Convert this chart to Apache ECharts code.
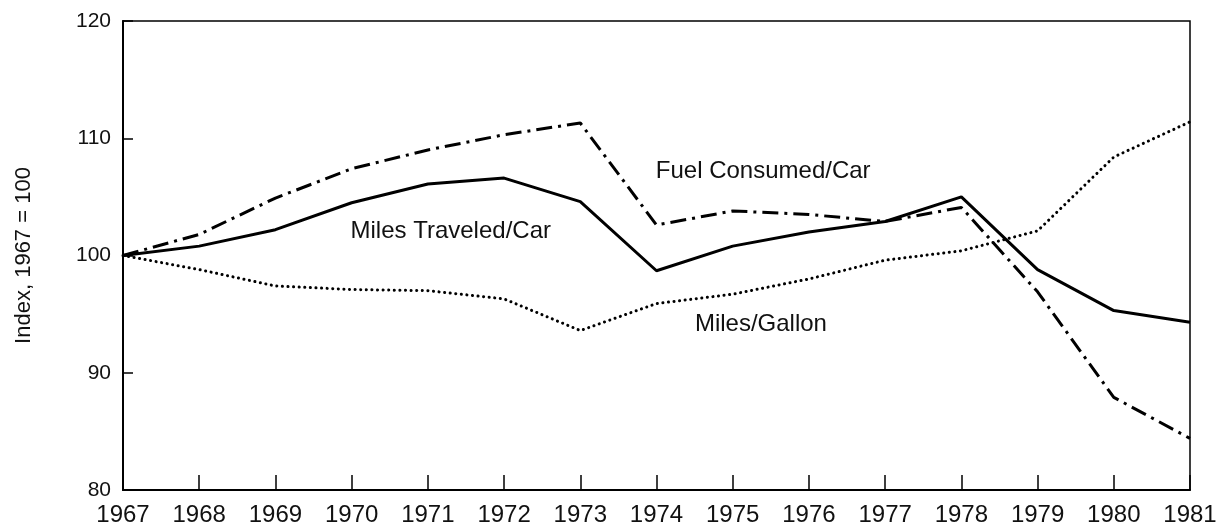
<!DOCTYPE html>
<html>
<head>
<meta charset="utf-8">
<title>Index, 1967 = 100</title>
<script src="https://cdn.jsdelivr.net/npm/echarts@6/dist/echarts.min.js"></script>
<style>
  html, body { margin: 0; padding: 0; background: #fff; }
  #chart { width: 1217px; height: 525px; }
</style>
</head>
<body>
<div id="chart"></div>
<script>
// ============================================================
// 数据
// ============================================================
const years = ['1967', '1968', '1969', '1970', '1971', '1972', '1973', '1974',
               '1975', '1976', '1977', '1978', '1979', '1980', '1981'];

const milesTraveled = [100, 100.8, 102.2, 104.5, 106.1, 106.6, 104.6, 98.7,
                       100.8, 102.0, 102.9, 105.0, 98.8, 95.3, 94.3];

const fuelConsumed = [100, 101.8, 104.9, 107.4, 109.0, 110.3, 111.3, 102.6,
                      103.8, 103.5, 102.9, 104.1, 96.9, 87.9, 84.4];

const milesPerGallon = [100, 98.8, 97.4, 97.1, 97.0, 96.3, 93.6, 95.9,
                        96.7, 98.0, 99.6, 100.4, 102.1, 108.4, 111.4];

const yTicks = { min: 80, max: 120, interval: 10 };

// 图中文字标注：[文字, x 类目位置(可带小数), y 值]
const notes = [
    ['Fuel Consumed/Car', 8.40, 107.2],
    ['Miles Traveled/Car', 4.30, 102.05],
    ['Miles/Gallon', 8.37, 94.1]
];

const FONT = '"Liberation Sans", Arial, sans-serif';

// ============================================================
// 初始化
// ============================================================
const chart = echarts.init(document.getElementById('chart'), null, { renderer: 'canvas' });

function lineSeries(name, data, width, type, cap) {
    return {
        name: name,
        type: 'line',
        data: data,
        symbol: 'none',
        smooth: false,
        lineStyle: { color: '#000', width: width, type: type, cap: cap || 'butt' },
        z: 3
    };
}

chart.setOption({
    animation: false,
    backgroundColor: '#fff',
    grid: {
        left: 123, right: 27, top: 21, bottom: 35,
        show: true, borderColor: '#000', borderWidth: 1.5,
        containLabel: false,
        outerBoundsMode: 'none'
    },
    xAxis: {
        type: 'category',
        data: years,
        boundaryGap: false,
        axisLine: { show: true, lineStyle: { color: '#000', width: 2 } },
        axisTick: { show: true, inside: true, length: 15, lineStyle: { color: '#000', width: 1.5 } },
        axisLabel: { color: '#111', fontFamily: FONT, fontSize: 24, margin: 13, interval: 0 },
        splitLine: { show: false }
    },
    yAxis: {
        type: 'value',
        min: yTicks.min,
        max: yTicks.max,
        interval: yTicks.interval,
        name: 'Index, 1967 = 100',
        nameLocation: 'middle',
        nameGap: 88,
        nameRotate: 90,
        nameTextStyle: { color: '#111', fontFamily: FONT, fontSize: 22 },
        axisLine: { show: true, lineStyle: { color: '#000', width: 2 } },
        axisTick: { show: true, inside: true, length: 10, lineStyle: { color: '#000', width: 1.5 } },
        axisLabel: { color: '#111', fontFamily: FONT, fontSize: 21, margin: 12 },
        splitLine: { show: false }
    },
    series: [
        lineSeries('Miles Traveled/Car', milesTraveled, 3, 'solid'),
        lineSeries('Fuel Consumed/Car', fuelConsumed, 3, [16, 6, 3, 6]),
        lineSeries('Miles/Gallon', milesPerGallon, 3, [0.1, 5.5], 'round')
    ]
});

// ============================================================
// 文字标注（类目轴会取整，这里在相邻两个类目间插值换算位置）
// ============================================================
function toPixel(xPos, yVal) {
    const i = Math.floor(xPos);
    const a = chart.convertToPixel({ gridIndex: 0 }, [i, yVal]);
    const b = chart.convertToPixel({ gridIndex: 0 }, [i + 1, yVal]);
    return [a[0] + (b[0] - a[0]) * (xPos - i), a[1]];
}

const graphics = notes.map(function(n) {
    const p = toPixel(n[1], n[2]);
    return {
        type: 'text',
        x: p[0],
        y: p[1],
        style: {
            text: n[0],
            fill: '#111',
            font: '24px ' + FONT,
            align: 'center',
            verticalAlign: 'middle'
        },
        z: 10
    };
});
chart.setOption({ graphic: graphics });
</script>
</body>
</html>
